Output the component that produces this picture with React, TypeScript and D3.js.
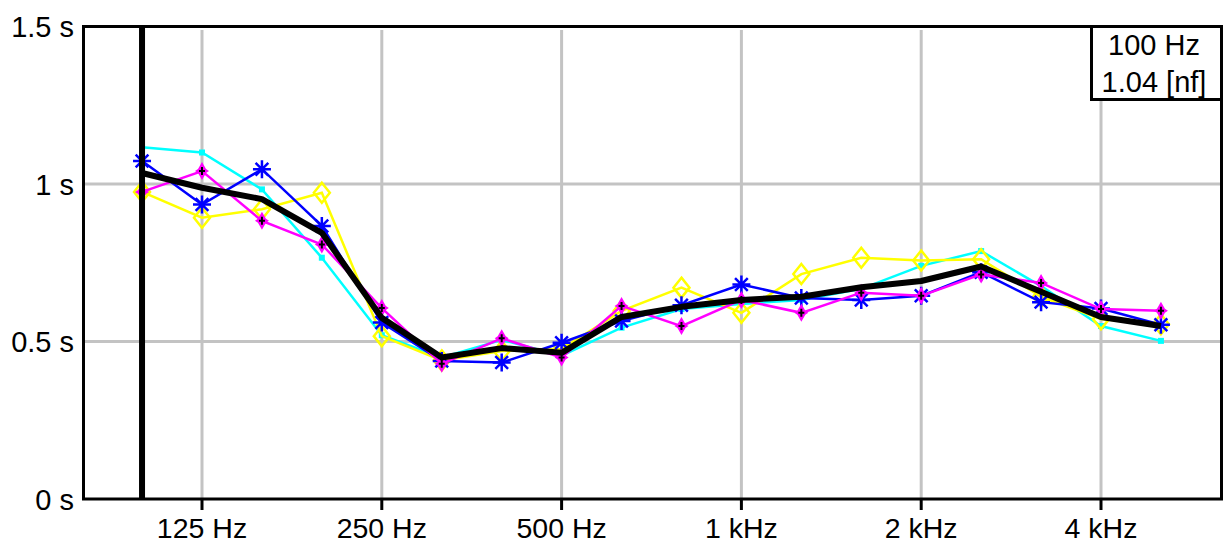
import React from 'react';
import * as d3 from 'd3';

// third-octave band centres (exact positions) and nominal labels
const bandNominal = [100, 125, 160, 200, 250, 315, 400, 500, 630, 800, 1000, 1250, 1600, 2000, 2500, 3150, 4000, 5000];
const bandCenters = [99.2, 125, 157.5, 198.4, 250, 315, 396.9, 500, 630, 793.7, 1000, 1259.9, 1587.4, 2000, 2519.8, 3174.8, 4000, 5039.7];

const cyanT = [1.117, 1.1, 0.983, 0.766, 0.52, 0.449, 0.505, 0.455, 0.544, 0.603, 0.619, 0.632, 0.667, 0.74, 0.787, 0.676, 0.549, 0.502];
const blueT = [1.073, 0.935, 1.047, 0.867, 0.56, 0.438, 0.433, 0.496, 0.565, 0.615, 0.681, 0.638, 0.632, 0.645, 0.72, 0.625, 0.605, 0.553];
const magentaT = [0.975, 1.041, 0.883, 0.808, 0.606, 0.429, 0.51, 0.449, 0.613, 0.549, 0.632, 0.591, 0.655, 0.645, 0.713, 0.686, 0.603, 0.598];
const yellowT = [0.975, 0.893, 0.92, 0.972, 0.517, 0.44, 0.47, 0.476, 0.597, 0.671, 0.591, 0.714, 0.766, 0.757, 0.761, 0.642, 0.571, 0.555];
const meanT = [1.035, 0.988, 0.952, 0.845, 0.575, 0.449, 0.479, 0.464, 0.578, 0.61, 0.632, 0.642, 0.672, 0.692, 0.738, 0.658, 0.578, 0.549];

const xTicks = [125, 250, 500, 1000, 2000, 4000];
const xTickLabels = ['125 Hz', '250 Hz', '500 Hz', '1 kHz', '2 kHz', '4 kHz'];
const yTicks = [0, 0.5, 1, 1.5];
const yTickLabels = ['0 s', '0.5 s', '1 s', '1.5 s'];
const yGrid = [0.5, 1];
const cursorFreq = 99.2;
const legendLines = ['100 Hz', '1.04 [nf]'];

const W = 1223;
const H = 545;
const FONT = '"Liberation Sans", Arial, sans-serif';

export default function App() {
  const x = d3.scaleLog().domain([125, 4000]).range([202, 1101]);
  const y = d3.scaleLinear().domain([0, 1.5]).range([499, 26.5]);
  const left = 83.5;
  const right = 1221.5;
  const top = 26.5;
  const bottom = 499;

  const line = d3
    .line<number>()
    .x((_, i) => x(bandCenters[i]))
    .y((d) => y(d));

  const star8 = (cx: number, cy: number, r: number) => {
    const parts: string[] = [];
    for (let k = 0; k < 4; k++) {
      const a = (k * Math.PI) / 4;
      const dx = Math.cos(a) * r;
      const dy = Math.sin(a) * r;
      parts.push(`M${cx - dx},${cy - dy}L${cx + dx},${cy + dy}`);
    }
    return parts.join('');
  };

  return (
    <svg
      width={W}
      height={H}
      style={{ position: 'absolute', left: 0, top: 0, background: '#fff' }}
      xmlns="http://www.w3.org/2000/svg"
    >
      <rect x={0} y={0} width={W} height={H} fill="#fff" />
      {/* grid */}
      {xTicks.map((f) => (
        <line key={'gx' + f} x1={x(f)} x2={x(f)} y1={30} y2={bottom} stroke="#c3c3c3" strokeWidth={3} />
      ))}
      {yGrid.map((v) => (
        <line key={'gy' + v} x1={left} x2={right} y1={y(v)} y2={y(v)} stroke="#c3c3c3" strokeWidth={3} />
      ))}

      {/* series */}
      <path d={line(cyanT) || ''} fill="none" stroke="#00ffff" strokeWidth={2.5} />
      {cyanT.map((v, i) => (
        <rect key={'cm' + i} x={x(bandCenters[i]) - 3} y={y(v) - 3} width={6} height={6} fill="#00ffff" />
      ))}
      <path d={line(yellowT) || ''} fill="none" stroke="#ffff00" strokeWidth={2.5} />
      {yellowT.map((v, i) => {
        const cx = x(bandCenters[i]);
        const cy = y(v);
        return (
          <path
            key={'ym' + i}
            d={`M${cx},${cy - 10}L${cx + 8},${cy}L${cx},${cy + 10}L${cx - 8},${cy}Z`}
            fill="none"
            stroke="#ffff00"
            strokeWidth={2.5}
          />
        );
      })}
      <path d={line(blueT) || ''} fill="none" stroke="#0000ff" strokeWidth={2.5} />
      {blueT.map((v, i) => (
        <path key={'bm' + i} d={star8(x(bandCenters[i]), y(v), 9)} stroke="#0000ff" strokeWidth={2.5} fill="none" />
      ))}
      <path d={line(magentaT) || ''} fill="none" stroke="#ff00ff" strokeWidth={2.5} />
      {magentaT.map((v, i) => {
        const cx = x(bandCenters[i]);
        const cy = y(v);
        return (
          <g key={'mm' + i}>
            <path
              d={`M${cx},${cy - 9}L${cx + 4},${cy - 2}L${cx + 7},${cy}L${cx + 4},${cy + 2}L${cx},${cy + 9}L${cx - 4},${cy + 2}L${cx - 7},${cy}L${cx - 4},${cy - 2}Z`}
              fill="#ff00ff"
            />
            <path d={`M${cx - 3},${cy}L${cx + 3},${cy}M${cx},${cy - 4}L${cx},${cy + 4}`} stroke="#000" strokeWidth={2} />
          </g>
        );
      })}
      <path d={line(meanT) || ''} fill="none" stroke="#000" strokeWidth={6} strokeLinejoin="round" />

      {/* cursor */}
      <line x1={x(cursorFreq)} x2={x(cursorFreq)} y1={top} y2={bottom} stroke="#000" strokeWidth={6} />

      {/* frame */}
      <rect x={left} y={top} width={right - left} height={bottom - top} fill="none" stroke="#000" strokeWidth={3} />

      {/* x ticks */}
      {xTicks.map((f, i) => (
        <g key={'xt' + f}>
          <line x1={x(f)} x2={x(f)} y1={bottom} y2={510} stroke="#000" strokeWidth={3} />
          <text x={x(f)} y={538} textAnchor="middle" fontFamily={FONT} fontSize={28.5} fill="#000">
            {xTickLabels[i]}
          </text>
        </g>
      ))}
      {/* y ticks */}
      {yTicks.map((v, i) => (
        <text key={'yt' + v} x={74} y={y(v) + 10.5} textAnchor="end" fontFamily={FONT} fontSize={29} fill="#000">
          {yTickLabels[i]}
        </text>
      ))}

      {/* legend box */}
      <rect x={1091.5} y={26.5} width={130} height={73} fill="#fff" stroke="#000" strokeWidth={3} />
      <text x={1154} y={55} textAnchor="middle" fontFamily={FONT} fontSize={29} fill="#000">
        {legendLines[0]}
      </text>
      <text x={1154} y={92} textAnchor="middle" fontFamily={FONT} fontSize={29} fill="#000">
        {legendLines[1]}
      </text>
      <desc>{bandNominal.join(',')}</desc>
    </svg>
  );
}
